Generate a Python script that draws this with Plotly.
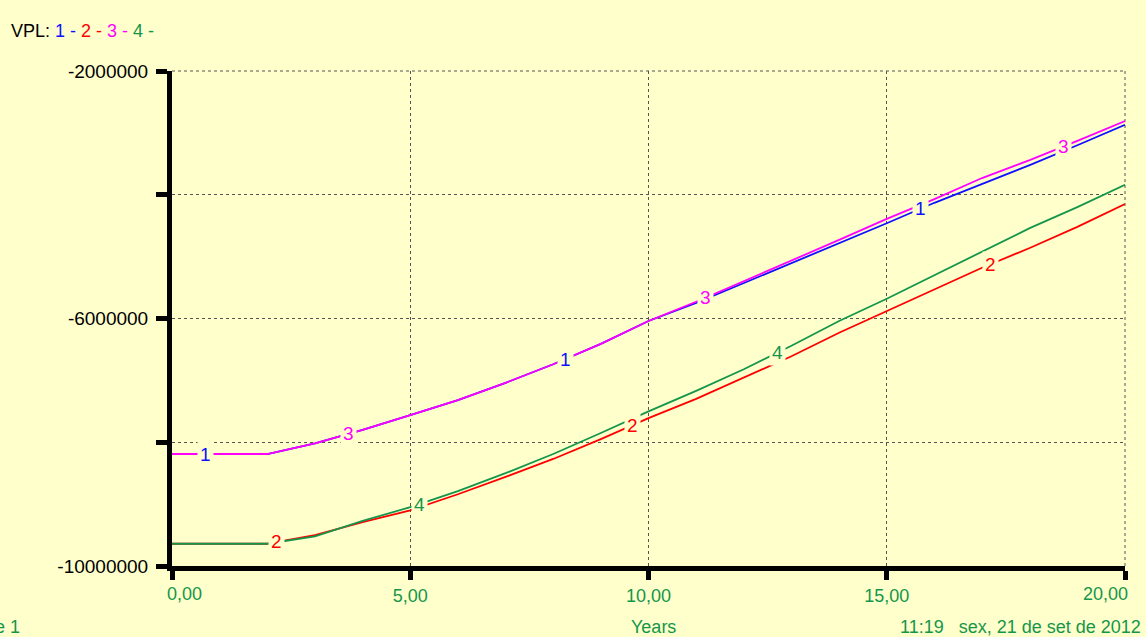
import numpy as np
import plotly.graph_objects as go

years = list(range(0, 21))
vpl_1 = [-8.19e6, -8.19e6, -8.19e6, -8.02e6, -7.80e6, -7.56e6, -7.32e6, -7.04e6, -6.74e6, -6.41e6,
         -6.04e6, -5.75e6, -5.43e6, -5.10e6, -4.78e6, -4.46e6, -4.13e6, -3.83e6, -3.52e6, -3.20e6, -2.87e6]
vpl_2 = [-9.64e6, -9.64e6, -9.64e6, -9.50e6, -9.29e6, -9.10e6, -8.84e6, -8.56e6, -8.27e6, -7.95e6,
         -7.61e6, -7.30e6, -6.95e6, -6.61e6, -6.23e6, -5.88e6, -5.54e6, -5.18e6, -4.86e6, -4.52e6, -4.15e6]
vpl_3 = [-8.19e6, -8.19e6, -8.19e6, -8.02e6, -7.80e6, -7.56e6, -7.32e6, -7.04e6, -6.74e6, -6.41e6,
         -6.04e6, -5.73e6, -5.40e6, -5.06e6, -4.73e6, -4.39e6, -4.07e6, -3.73e6, -3.44e6, -3.13e6, -2.81e6]
vpl_4 = [-9.64e6, -9.64e6, -9.64e6, -9.52e6, -9.27e6, -9.05e6, -8.79e6, -8.50e6, -8.19e6, -7.85e6,
         -7.50e6, -7.17e6, -6.82e6, -6.44e6, -6.04e6, -5.68e6, -5.30e6, -4.93e6, -4.54e6, -4.20e6, -3.84e6]

series_names = ["1", "2", "3", "4"]
series_values = [vpl_1, vpl_2, vpl_3, vpl_4]
series_colors = ["#1010FF", "#FF0000", "#FF00FF", "#14964A"]
label_positions = [[0.7, 8.25, 15.7], [2.2, 9.67, 17.17], [3.7, 11.2, 18.7], [5.2, 12.7]]

x_ticks = [0, 5, 10, 15, 20]
x_ticktext = ["0,00", "5,00", "10,00", "15,00", "20,00"]
y_ticks = [-10e6, -8e6, -6e6, -4e6, -2e6]
y_ticktext = ["-10000000", "", "-6000000", "", "-2000000"]

BG = "#FFFFCC"
GREEN = "#14964A"
GRID = "#555555"
FONT = "Liberation Sans, Arial, sans-serif"

fig = go.Figure()
for name, vals, col in zip(series_names, series_values, series_colors):
    fig.add_trace(go.Scatter(x=years, y=vals, mode="lines", name=name,
                             line=dict(color=col, width=1.8), showlegend=False))

for name, vals, col, xs in zip(series_names, series_values, series_colors, label_positions):
    for xp in xs:
        yp = float(np.interp(xp, years, vals))
        fig.add_annotation(x=xp, y=yp, text=name, showarrow=False,
                           font=dict(color=col, size=19, family=FONT),
                           bgcolor=BG, borderpad=2, xanchor="center", yanchor="middle")


def px_x(p):
    return (p - 172) / 953


def px_y(p):
    return (566 - p) / 495


# dotted frame at top and right edges of the plot area
fig.add_shape(type="line", xref="paper", yref="paper", x0=0, x1=1, y0=1, y1=1,
              line=dict(color=GRID, width=1, dash="dot"), layer="below")
fig.add_shape(type="line", xref="paper", yref="paper", x0=1, x1=1, y0=0, y1=1,
              line=dict(color=GRID, width=1, dash="dot"), layer="below")

# Header
fig.add_annotation(xref="paper", yref="paper", x=px_x(9), y=px_y(31),
                   xanchor="left", yanchor="middle", showarrow=False,
                   text=("VPL: <span style='color:#1010FF'>1 - </span>"
                         "<span style='color:#FF0000'>2 - </span>"
                         "<span style='color:#FF00FF'>3 - </span>"
                         "<span style='color:#14964A'>4 - </span>"),
                   font=dict(color="black", size=18, family=FONT))

# End x tick labels, shifted inward like the original
shown_ticktext = [""] + x_ticktext[1:-1] + [""]
fig.add_annotation(xref="paper", yref="paper", x=px_x(165), y=px_y(594),
                   xanchor="left", yanchor="middle", showarrow=False, text=x_ticktext[0],
                   font=dict(color=GREEN, size=18, family=FONT))
fig.add_annotation(xref="paper", yref="paper", x=px_x(1130), y=px_y(594),
                   xanchor="right", yanchor="middle", showarrow=False, text=x_ticktext[-1],
                   font=dict(color=GREEN, size=18, family=FONT))

# Footer
fig.add_annotation(xref="paper", yref="paper", x=px_x(22), y=px_y(627),
                   xanchor="right", yanchor="middle", showarrow=False, text="Page 1",
                   font=dict(color=GREEN, size=18, family=FONT))
fig.add_annotation(xref="paper", yref="paper", x=px_x(653), y=px_y(627),
                   xanchor="center", yanchor="middle", showarrow=False, text="Years",
                   font=dict(color=GREEN, size=18, family=FONT))
fig.add_annotation(xref="paper", yref="paper", x=px_x(1143), y=px_y(627),
                   xanchor="right", yanchor="middle", showarrow=False,
                   text="11:19&nbsp;&nbsp;&nbsp;sex, 21 de set de 2012",
                   font=dict(color=GREEN, size=18, family=FONT))

fig.update_layout(
    width=1146, height=637,
    margin=dict(l=172, r=21, t=71, b=71),
    paper_bgcolor=BG, plot_bgcolor=BG,
    font=dict(family=FONT),
    xaxis=dict(range=[0, 20], tickvals=x_ticks, ticktext=shown_ticktext,
               showgrid=True, gridcolor=GRID, griddash="dot", gridwidth=1,
               showline=True, linecolor="black", linewidth=5, mirror=False,
               ticks="outside", ticklen=9, tickwidth=5, tickcolor="black",
               tickfont=dict(color=GREEN, size=18, family=FONT), zeroline=False),
    yaxis=dict(range=[-10e6, -2e6], tickvals=y_ticks, ticktext=y_ticktext,
               showgrid=True, gridcolor=GRID, griddash="dot", gridwidth=1,
               showline=True, linecolor="black", linewidth=5,
               ticks="outside", ticklen=11, tickwidth=5, tickcolor="black",
               ticklabelstandoff=4,
               tickfont=dict(color="black", size=19, family=FONT), zeroline=False),
)
fig.write_html("out.html", config={"displayModeBar": False},
               post_script="document.body.style.margin='0';document.body.style.overflow='hidden';")
